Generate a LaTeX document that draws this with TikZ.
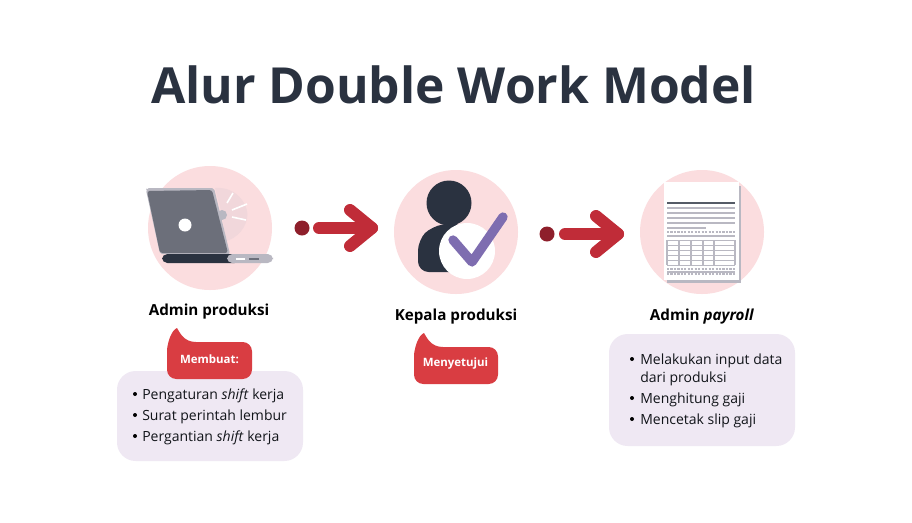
\documentclass[tikz,border=0pt]{standalone}
\usepackage{fontspec}
\setmainfont{Open Sans}
\definecolor{ink}{HTML}{2A3240}
\definecolor{blush}{HTML}{FBDDDF}
\definecolor{lilac}{HTML}{EFE8F3}
\definecolor{tagred}{HTML}{D93D42}
\definecolor{arrowred}{HTML}{C02C38}
\definecolor{dotred}{HTML}{8E1F2B}
\definecolor{tick}{HTML}{7E6DB0}
\definecolor{slate}{HTML}{6C6F7A}
\definecolor{steel}{HTML}{B9B8C2}
\tikzset{
  disc/.style={fill=blush},
  panel/.style={fill=lilac,rounded corners=14pt},
  tag/.style={fill=tagred,rounded corners=7pt},
  role/.style={font=\fontsize{11.4}{13}\selectfont\bfseries,text=black},
  item/.style={font=\fontsize{10.5}{12}\selectfont,anchor=base west,inner sep=0pt,text=ink!40!black},
  tagtext/.style={font=\fontsize{8.6}{10}\selectfont\bfseries,text=white,inner sep=0pt},
  docline/.style={line width=1.6pt,steel},
  bar/.style={line width=9pt,line cap=round,line join=round,arrowred},
}
\begin{document}
\begin{tikzpicture}[x=0.75pt,y=-0.75pt]
  \useasboundingbox (0,0) rectangle (912,522);
  \fill[white] (0,0) rectangle (912,522);
  \node[font=\fontsize{37.3}{44}\selectfont\bfseries,text=ink] (title) at (453.5,85) {Alur Double Work Model};
  % discs
  \coordinate (A) at (210,228);
  \coordinate (K) at (456,232);
  \coordinate (P) at (702,232);
  \fill[disc] (A) circle (62);
  \fill[disc] (K) circle (62);
  \fill[disc] (P) circle (62);
  % laptop
  \fill[blush!85!steel] (222,215) -- (215,188) .. controls (240,186) and (250,210) .. (247,218) .. controls (245,232) and (232,240) .. (226,241) -- cycle;
  \fill[steel] (222,215) circle (5);
  \draw[white,line width=1.2pt] (227,203) -- (233,193);
  \draw[white,line width=1.2pt] (232,210) -- (247,204);
  \draw[white,line width=1.2pt] (232,217) -- (246,220);
  \fill[steel,rounded corners=1.5pt] (146,190) -- (147,188) -- (214,188) -- (230,254) -- (160,254) -- cycle;
  \fill[slate,rounded corners=2pt] (147,191) -- (212,190) -- (228,253) -- (160,253) -- cycle;
  \fill[white] (185,225) circle (6.5);
  \fill[ink,rounded corners=4pt] (162,254) rectangle (240,263);
  \fill[steel,rounded corners=4pt] (227,254) rectangle (273,263);
  \fill[white] (236,257.5) rectangle (245,259.5);
  \fill[slate] (249,257.5) rectangle (259,259.5);
  % person
  \fill[ink] (449,203) circle (22.5);
  \fill[ink,rounded corners=8pt] (418,272) -- (418,240) -- (432,226) -- (462,222) -- (462,272) -- cycle;
  \fill[white] (467,251) circle (28);
  \draw[tick,line width=7pt,line cap=round,line join=round] (453,240) -- (472,262) -- (503,217);
  % document
  \fill[steel] (667,186) rectangle (741,283);
  \fill[white] (664,182) rectangle (739,280);
  \draw[line width=1.8pt,ink!80] (667,203) -- (735,203);
  \foreach \y in {208,213,218,223}
    \draw[docline] (667,\y) -- (735,\y);
  \draw[docline] (667,228) -- (706,228);
  \foreach \y in {232,269,274}
    \draw[docline,densely dotted] (667,\y) -- (735,\y);
  \foreach \y in {236,272}
    \draw[docline,line width=.8pt] (667,\y) -- (735,\y);
  \foreach \y in {240,245,250,255,260,265}
    \draw[steel,line width=.7pt] (667,\y) -- (735,\y);
  \foreach \x in {667,679,691,703,714,735}
    \draw[steel,line width=.8pt] (\x,240) -- (\x,265);
  % arrows
  \fill[dotred] (302,228) circle (7.5) coordinate (dotA);
  \draw[bar] (319,228) -- (372,228);
  \draw[bar] (350,210) -- (372,228) -- (350,246);
  \fill[dotred] (547,234) circle (7.5) coordinate (dotB);
  \draw[bar] (565,234) -- (618,234);
  \draw[bar] (596,216) -- (618,234) -- (596,252);
  % labels
  \node[role] (admin) at (209,312) {Admin produksi};
  \node[role] (kepala) at (456,317) {Kepala produksi};
  \node[role] (payroll) at (702,317) {Admin \textit{payroll}};
  % panels
  \fill[panel] (117,371) rectangle (303,461);
  \fill[panel] (609,334) rectangle (795,446);
  % tags
  \fill[tag] (167,342) rectangle (252,379);
  \fill[tagred] (167,360) -- (167,350) .. controls (168,340) and (172,330) .. (177,328) .. controls (180,333) and (184,342) .. (196,342) -- (210,342) -- (210,360) -- cycle;
  \node[tagtext] (membuat) at (209.5,359) {Membuat:};
  \fill[tag] (414,347) rectangle (498,384);
  \fill[tagred] (414,365) -- (414,355) .. controls (415,345) and (419,335) .. (424,333) .. controls (427,338) and (431,347) .. (443,347) -- (457,347) -- (457,365) -- cycle;
  \node[tagtext] (setuju) at (455.5,364) {Menyetujui};
  % lists
  \foreach \nm/\yy/\txt in {a/399/Pengaturan \textit{shift} kerja,b/420/Surat perintah lembur,c/441/Pergantian \textit{shift} kerja}{
    \fill[black] (135,\yy-5) circle (2);
    \node[item] (list\nm) at (142,\yy) {\txt};
  }
  \foreach \nm/\yy/\txt in {d/364/Melakukan input data,f/403/Menghitung gaji,g/424/Mencetak slip gaji}{
    \fill[black] (632,\yy-5) circle (2);
    \node[item] (list\nm) at (640,\yy) {\txt};
  }
  \node[item] (liste) at (640,382) {dari produksi};
\end{tikzpicture}
\end{document}
